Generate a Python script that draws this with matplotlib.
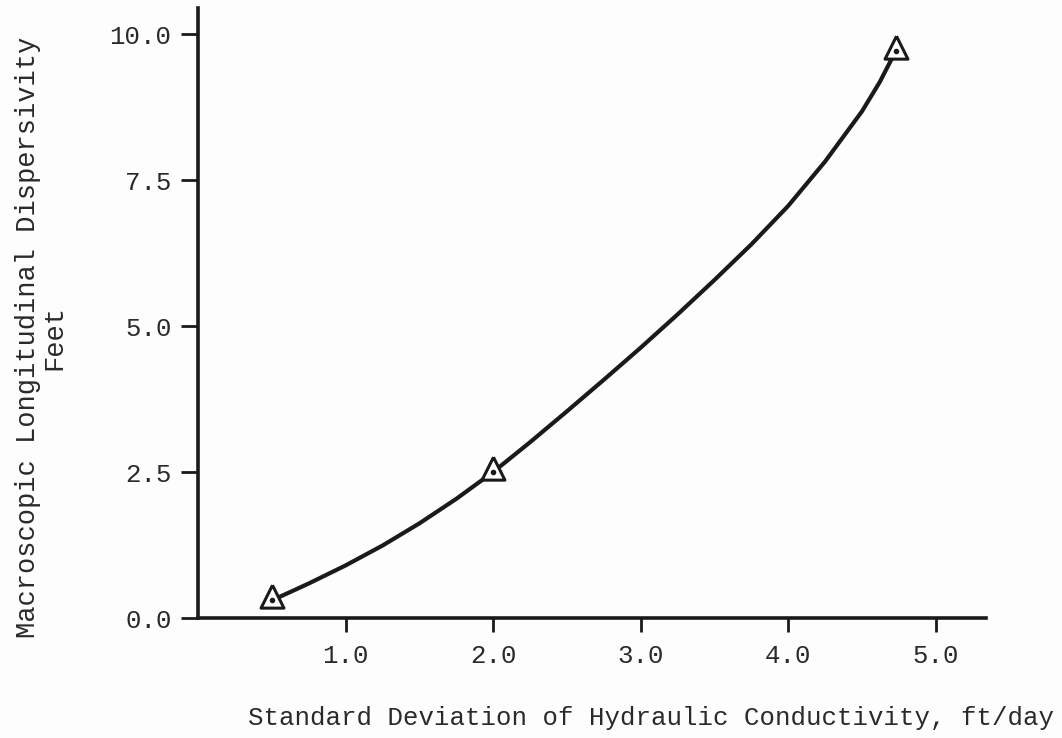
import matplotlib.pyplot as plt
from matplotlib.ticker import FixedLocator

# observed points (std. dev. of K vs. macroscopic dispersivity)
sigma_k = [0.5, 2.0, 4.73]
dispersivity = [0.3, 2.5, 9.72]

# hand-drawn curve through the points, read along its length
curve_x = [0.5, 0.75, 1.0, 1.25, 1.5, 1.75, 2.0, 2.25, 2.5, 2.75, 3.0,
           3.25, 3.5, 3.75, 4.0, 4.25, 4.5, 4.62, 4.73]
curve_y = [0.30, 0.59, 0.90, 1.24, 1.62, 2.04, 2.50, 3.01, 3.54, 4.08, 4.63,
           5.20, 5.79, 6.40, 7.06, 7.82, 8.68, 9.18, 9.72]

xticks = [1.0, 2.0, 3.0, 4.0, 5.0]
xtick_labels = ['1.0', '2.0', '3.0', '4.0', '5.0']
yticks = [0.0, 2.5, 5.0, 7.5, 10.0]
ytick_labels = ['0.0', '2.5', '5.0', '7.5', '10.0']

ink = '#1a1a1a'
txt = '#2a2a2a'
plt.rcParams['font.family'] = ['Liberation Mono', 'DejaVu Sans Mono']

fig = plt.figure(figsize=(10.62, 7.38), dpi=100, facecolor='#fdfdfd')
ax = fig.add_axes([0.1864, 0.1626, 0.742, 0.8266])
ax.set_facecolor('none')

ax.plot(curve_x, curve_y, color=ink, lw=3.0, solid_capstyle='round',
        solid_joinstyle='round', zorder=2)

# triangle with its centroid on the point, plus the centre dot
tri = [(0, 1), (-0.75, -0.5), (0.75, -0.5), (0, 1)]
ax.plot(sigma_k, dispersivity, ls='none', marker=tri, ms=22, mfc='white',
        mec=ink, mew=2.2, zorder=3)
ax.plot(sigma_k, dispersivity, ls='none', marker='o', ms=3, color=ink, zorder=4)

ax.set_xlim(0, 5.34)
ax.set_ylim(0, 10.45)
ax.spines['top'].set_visible(False)
ax.spines['right'].set_visible(False)
for s in ['left', 'bottom']:
    ax.spines[s].set_linewidth(2.6)
    ax.spines[s].set_color(ink)

ax.xaxis.set_major_locator(FixedLocator(xticks))
ax.set_xticklabels(xtick_labels)
ax.yaxis.set_major_locator(FixedLocator(yticks))
ax.set_yticklabels(ytick_labels)
ax.tick_params(axis='x', length=10, width=2, color=ink, pad=9,
               labelsize=18.5, labelcolor=txt)
ax.tick_params(axis='y', length=12, width=2, color=ink, pad=7,
               labelsize=18.5, labelcolor=txt)

ax.set_xlabel('Standard Deviation of Hydraulic Conductivity, ft/day',
              fontsize=18.5, color=txt)
ax.xaxis.set_label_coords(0.575, -0.145)

# two-line y title, placed by its centre
ax.text(-0.199, 0.46, 'Macroscopic Longitudinal Dispersivity\nFeet',
        transform=ax.transAxes, rotation=90, ha='center', va='center',
        multialignment='center', fontsize=19.5, color=txt, linespacing=1.0)

fig.savefig('out.png', dpi=100, facecolor=fig.get_facecolor())
